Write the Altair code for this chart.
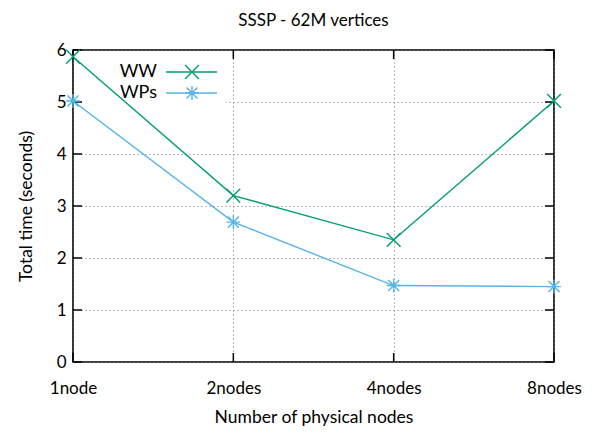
import altair as alt
import pandas as pd

title_text = ["SSSP - 62M vertices"]
categories = ["1node", "2nodes", "4nodes", "8nodes"]
series = ["WW", "WPs"]
ww_values = [5.87, 3.20, 2.35, 5.02]
wps_values = [5.02, 2.69, 1.47, 1.45]
y_ticks = [0, 1, 2, 3, 4, 5, 6]
colors = ["#009e73", "#56b4e9"]

X_PATH = "M-1,-1L1,1M-1,1L1,-1"
STAR_PATH = "M-1,0L1,0M0,-1L0,1M-0.8,-0.8L0.8,0.8M-0.8,0.8L0.8,-0.8"
shapes = [X_PATH, STAR_PATH]

W, H = 481, 312
FONT = "Lato"

rows = []
for s, vals in zip(series, [ww_values, wps_values]):
    for c, v in zip(categories, vals):
        rows.append({"node": c, "series": s, "value": v})
df = pd.DataFrame(rows)

x_enc = alt.X(
    "node:O",
    sort=categories,
    scale=alt.Scale(type="point", padding=0, domain=categories),
    axis=alt.Axis(
        title="Number of physical nodes",
        labelAngle=0,
        ticks=False,
        domain=False,
        grid=True,
        gridDash=[1, 3],
        gridColor="#777777",
        gridWidth=1,
        labelPadding=18,
        titlePadding=12,
    ),
)
y_enc = alt.Y(
    "value:Q",
    scale=alt.Scale(domain=[0, 6], nice=False),
    axis=alt.Axis(
        title="Total time (seconds)",
        values=y_ticks,
        ticks=False,
        domain=False,
        grid=True,
        gridDash=[1, 3],
        gridColor="#777777",
        gridWidth=1,
        labelPadding=7,
        titlePadding=21,
    ),
)
color_enc = alt.Color("series:N", scale=alt.Scale(domain=series, range=colors), legend=None)
shape_enc = alt.Shape("series:N", scale=alt.Scale(domain=series, range=shapes), legend=None)

base = alt.Chart(df)

lines = base.mark_line(strokeWidth=1.4).encode(x=x_enc, y=y_enc, color=color_enc, detail="series:N")
points = base.mark_point(filled=False, size=190, strokeWidth=1.4, opacity=1).encode(
    x="node:O", y="value:Q", color=color_enc, shape=shape_enc
)

# chart title as a text mark above the plot
title_layer = alt.Chart(pd.DataFrame({"t": title_text})).mark_text(
    align="center", baseline="alphabetic", fontSize=17, font=FONT, color="black"
).encode(text="t:N", x=alt.value(W / 2), y=alt.value(-24))

# legend background (opaque key box)
key_bg = alt.Chart(pd.DataFrame({"a": [0]})).mark_rect(color="white").encode(
    x=alt.value(3), x2=alt.value(153), y=alt.value(2), y2=alt.value(62)
)

# inward ticks on all four sides
ydf = pd.DataFrame({"value": y_ticks})
tick_len = 9
left_ticks = alt.Chart(ydf).mark_rule(color="black", strokeWidth=1.5).encode(
    y="value:Q", x=alt.value(0), x2=alt.value(tick_len)
)
right_ticks = alt.Chart(ydf).mark_rule(color="black", strokeWidth=1.5).encode(
    y="value:Q", x=alt.value(W), x2=alt.value(W - tick_len)
)
xdf = pd.DataFrame({"node": categories})
bottom_ticks = alt.Chart(xdf).mark_rule(color="black", strokeWidth=1.5).encode(
    x="node:O", y=alt.value(H), y2=alt.value(H - tick_len)
)
top_ticks = alt.Chart(xdf).mark_rule(color="black", strokeWidth=1.5).encode(
    x="node:O", y=alt.value(0), y2=alt.value(tick_len)
)

legend_layers = []
legend_y = [22, 43]
for s, col, shp, ly in zip(series, colors, shapes, legend_y):
    ldf = pd.DataFrame({"series": [s]})
    legend_layers.append(
        alt.Chart(ldf).mark_text(align="right", baseline="middle", fontSize=18, font=FONT, color="black").encode(
            text="series:N", x=alt.value(84), y=alt.value(ly)
        )
    )
    legend_layers.append(
        alt.Chart(ldf).mark_rule(color=col, strokeWidth=1.4).encode(
            x=alt.value(93), x2=alt.value(144), y=alt.value(ly)
        )
    )
    legend_layers.append(
        alt.Chart(ldf).mark_point(filled=False, size=190, strokeWidth=1.4, color=col, shape=shp, opacity=1).encode(
            x=alt.value(119), y=alt.value(ly)
        )
    )

chart = alt.layer(
    key_bg, lines, left_ticks, right_ticks, bottom_ticks, top_ticks, points, title_layer, *legend_layers
).properties(
    width=W,
    height=H,
    autosize=alt.AutoSizeParams(type="none"),
    padding={"left": 65, "top": 42, "right": 34, "bottom": 68},
).configure_view(
    stroke="black", strokeWidth=1.6
).configure_axis(
    labelFont=FONT, labelFontSize=17, labelColor="black",
    titleFont=FONT, titleFontSize=17.5, titleFontWeight="normal", titleColor="black",
)

chart.save("out.html", embed_options={"renderer": "svg", "actions": False})
